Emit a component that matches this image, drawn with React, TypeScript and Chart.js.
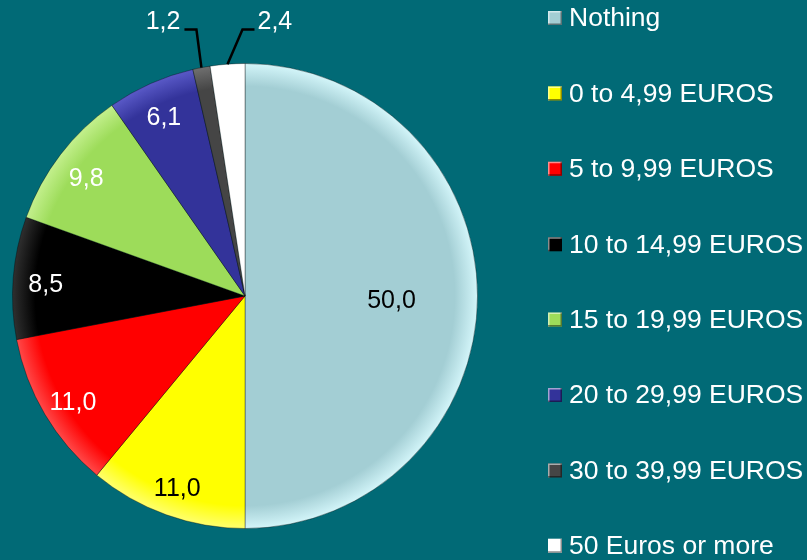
import React, { useEffect, useRef } from "react";
import { Chart, registerables } from "chart.js";

Chart.register(...registerables);

const categories = [
  "Nothing",
  "0 to 4,99 EUROS",
  "5 to 9,99 EUROS",
  "10 to 14,99 EUROS",
  "15 to 19,99 EUROS",
  "20 to 29,99 EUROS",
  "30 to 39,99 EUROS",
  "50 Euros or more",
];
const values = [50.0, 11.0, 11.0, 8.5, 9.8, 6.1, 1.2, 2.4];
const sliceColors = ["#a3ced4", "#ffff00", "#ff0000", "#000000", "#9ddc5a", "#33339a", "#454545", "#ffffff"];
const rimColors = ["#d4f6fa", "#ffff70", "#ff4a4a", "#303030", "#c4f08e", "#5a5ac8", "#707070", "#ffffff"];
const valueTextColors = ["#000000", "#000000", "#ffffff", "#ffffff", "#ffffff", "#ffffff", "#ffffff", "#ffffff"];

const BG = "#016a76";
const FONT = "Arial, 'Liberation Sans', sans-serif";

const fmt = (v: number) => v.toFixed(1).replace(".", ",");

const valueLabelPlugin = {
  id: "valueLabels",
  afterDatasetsDraw(chart: any) {
    const ctx = chart.ctx;
    const meta = chart.getDatasetMeta(0);
    const data = chart.data.datasets[0].data as number[];
    ctx.save();
    ctx.font = `25px ${FONT}`;
    meta.data.forEach((arc: any, i: number) => {
      const { x, y, startAngle, endAngle, outerRadius } = arc.getProps(
        ["x", "y", "startAngle", "endAngle", "outerRadius"],
        true
      );
      const mid = (startAngle + endAngle) / 2;
      const v = data[i];
      const text = fmt(v);
      if (v < 3) {
        const px = x + outerRadius * Math.cos(mid);
        const py = y + outerRadius * Math.sin(mid);
        const ly = y - outerRadius - 34;
        const left = px - x < -30;
        ctx.strokeStyle = "#000";
        ctx.lineWidth = 2.5;
        ctx.beginPath();
        ctx.moveTo(px, py);
        if (left) {
          ctx.lineTo(px - 5, ly);
          ctx.lineTo(px - 17, ly);
        } else {
          ctx.lineTo(px + 15, ly);
          ctx.lineTo(px + 27, ly);
        }
        ctx.stroke();
        ctx.fillStyle = "#ffffff";
        ctx.textBaseline = "alphabetic";
        ctx.textAlign = left ? "right" : "left";
        ctx.fillText(text, left ? px - 21 : px + 30, ly - 1);
      } else {
        const f = v >= 40 ? 0.63 : 0.86;
        const tx = x + outerRadius * f * Math.cos(mid);
        const ty = y + outerRadius * f * Math.sin(mid) + 5;
        ctx.fillStyle = valueTextColors[i];
        ctx.textAlign = "center";
        ctx.textBaseline = "middle";
        ctx.fillText(text, tx, ty);
      }
    });
    ctx.restore();
  },
};

const legendPlugin = {
  id: "sideLegend",
  afterDraw(chart: any) {
    const ctx = chart.ctx;
    const labels = chart.data.labels as string[];
    const x0 = 548;
    const y0 = 18;
    const step = 75.4;
    const box = 14;
    ctx.save();
    ctx.font = `26.5px ${FONT}`;
    ctx.textAlign = "left";
    ctx.textBaseline = "middle";
    labels.forEach((lab, i) => {
      const cy = y0 + i * step;
      const bx = x0;
      const by = cy - box / 2;
      ctx.fillStyle = sliceColors[i];
      ctx.fillRect(bx, by, box, box);
      ctx.lineWidth = 1.5;
      ctx.strokeStyle = "rgba(255,255,255,0.55)";
      ctx.beginPath();
      ctx.moveTo(bx + 0.75, by + box);
      ctx.lineTo(bx + 0.75, by + 0.75);
      ctx.lineTo(bx + box, by + 0.75);
      ctx.stroke();
      ctx.strokeStyle = "rgba(0,0,0,0.45)";
      ctx.beginPath();
      ctx.moveTo(bx + box - 0.75, by);
      ctx.lineTo(bx + box - 0.75, by + box - 0.75);
      ctx.lineTo(bx, by + box - 0.75);
      ctx.stroke();
      ctx.fillStyle = "#ffffff";
      ctx.fillText(lab, x0 + 21, cy + 1);
    });
    ctx.restore();
  },
};

export default function App() {
  const ref = useRef<HTMLCanvasElement | null>(null);
  useEffect(() => {
    if (!ref.current) return;
    const chart = new Chart(ref.current, {
      type: "pie",
      data: {
        labels: categories,
        datasets: [
          {
            data: values,
            backgroundColor: (c: any) => {
              const i = c.dataIndex;
              const area = c.chart.chartArea;
              if (!area) return sliceColors[i];
              const cx = (area.left + area.right) / 2;
              const cy = (area.top + area.bottom) / 2;
              const r = Math.min(area.right - area.left, area.bottom - area.top) / 2;
              const g = c.chart.ctx.createRadialGradient(cx, cy, 0, cx, cy, r);
              g.addColorStop(0, sliceColors[i]);
              g.addColorStop(0.9, sliceColors[i]);
              g.addColorStop(1, rimColors[i]);
              return g;
            },
            borderColor: "rgba(0,0,0,0.35)",
            borderWidth: 1,
          },
        ],
      },
      options: {
        responsive: false,
        animation: false,
        devicePixelRatio: 1,
        rotation: 0,
        layout: { padding: { left: 12, right: 329, top: 63, bottom: 31 } },
        plugins: {
          legend: { display: false },
          tooltip: { enabled: false },
        },
      },
      plugins: [valueLabelPlugin, legendPlugin],
    });
    return () => chart.destroy();
  }, []);
  return (
    <div style={{ position: "fixed", left: 0, top: 0, width: 807, height: 560, background: BG }}>
      <canvas ref={ref} width={807} height={560} style={{ display: "block" }} />
    </div>
  );
}
